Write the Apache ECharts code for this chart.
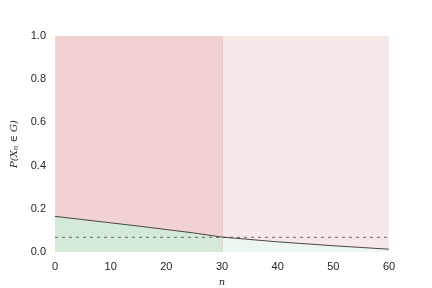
<!DOCTYPE html>
<html><head><meta charset="utf-8">
<script src="https://cdn.jsdelivr.net/npm/echarts@6/dist/echarts.min.js"></script>
<style>html,body{margin:0;padding:0;background:#fff}#c{width:432px;height:288px}</style>
</head><body><div id="c"></div>
<script>
const nValues = [0, 5, 10, 15, 20, 25, 30, 35, 40, 45, 50, 55, 60];
const probValues = [0.165, 0.150, 0.135, 0.120, 0.104, 0.088, 0.069, 0.058, 0.047, 0.038, 0.029, 0.021, 0.013];
const threshold = 0.068;
const splitN = 30;
const xTicks = [0, 10, 20, 30, 40, 50, 60];
const yTicks = [0.0, 0.2, 0.4, 0.6, 0.8, 1.0];

const leftPart = [], rightPart = [];
nValues.forEach((n, i) => {
  if (n <= splitN) leftPart.push([n, probValues[i]]);
  if (n >= splitN) rightPart.push([n, probValues[i]]);
});

const chart = echarts.init(document.getElementById('c'), null, {renderer: 'canvas'});
const labelStyle = {color: '#262626', fontFamily: 'Liberation Sans', fontSize: 11};
chart.setOption({
  animation: false,
  backgroundColor: '#ffffff',
  grid: {left: 55, right: 43, top: 36, bottom: 36, containLabel: false, outerBoundsMode: 'none'},
  xAxis: {
    type: 'value', min: 0, max: 60, interval: 10,
    axisLine: {show: false}, axisTick: {show: false}, splitLine: {show: false},
    axisLabel: Object.assign({margin: 9, formatter: v => xTicks.includes(v) ? String(v) : ''}, labelStyle),
    name: 'n', nameLocation: 'middle', nameGap: 25,
    nameTextStyle: {fontFamily: 'DejaVu Serif', fontStyle: 'italic', fontSize: 10, color: '#262626'}
  },
  yAxis: {
    type: 'value', min: 0, max: 1, interval: 0.2,
    axisLine: {show: false}, axisTick: {show: false}, splitLine: {show: false},
    axisLabel: Object.assign({margin: 9, formatter: v => yTicks.find(t => Math.abs(t - v) < 1e-9) !== undefined ? v.toFixed(1) : ''}, labelStyle),
    name: '{a|P(X}{s|n}{a| ∈ G)}', nameLocation: 'middle', nameGap: 32, nameRotate: 90,
    nameTextStyle: {
      rich: {
        a: {fontFamily: 'DejaVu Serif', fontStyle: 'italic', fontSize: 10, color: '#262626'},
        s: {fontFamily: 'DejaVu Serif', fontStyle: 'italic', fontSize: 7, color: '#262626', verticalAlign: 'bottom', padding: [4, 0, 0, 0]}
      }
    }
  },
  series: [
    {
      type: 'line', data: leftPart, symbol: 'none', z: 3,
      lineStyle: {color: '#4a4545', width: 1},
      areaStyle: {color: '#d5e9d9', opacity: 1},
      markArea: {
        silent: true,
        data: [
          [{coord: [0, 0], itemStyle: {color: '#f0d2d3'}}, {coord: [splitN, 1]}],
          [{coord: [splitN, 0], itemStyle: {color: '#f8e9e9'}}, {coord: [60, 1]}]
        ]
      }
    },
    {
      type: 'line', data: rightPart, symbol: 'none', z: 3,
      lineStyle: {color: '#4a4545', width: 1},
      areaStyle: {color: '#edf6ef', opacity: 1},
      markLine: {
        silent: true, symbol: 'none', label: {show: false},
        data: [
          [{coord: [splitN, 0], lineStyle: {color: 'rgba(196,78,82,0.2)', type: 'solid', width: 1}}, {coord: [splitN, 1]}]
        ]
      }
    },
    {
      type: 'line', data: [[0, threshold], [60, threshold]], symbol: 'none', z: 4,
      lineStyle: {color: '#444444', width: 0.8, type: [3, 4]}
    }
  ]
});
</script></body></html>
